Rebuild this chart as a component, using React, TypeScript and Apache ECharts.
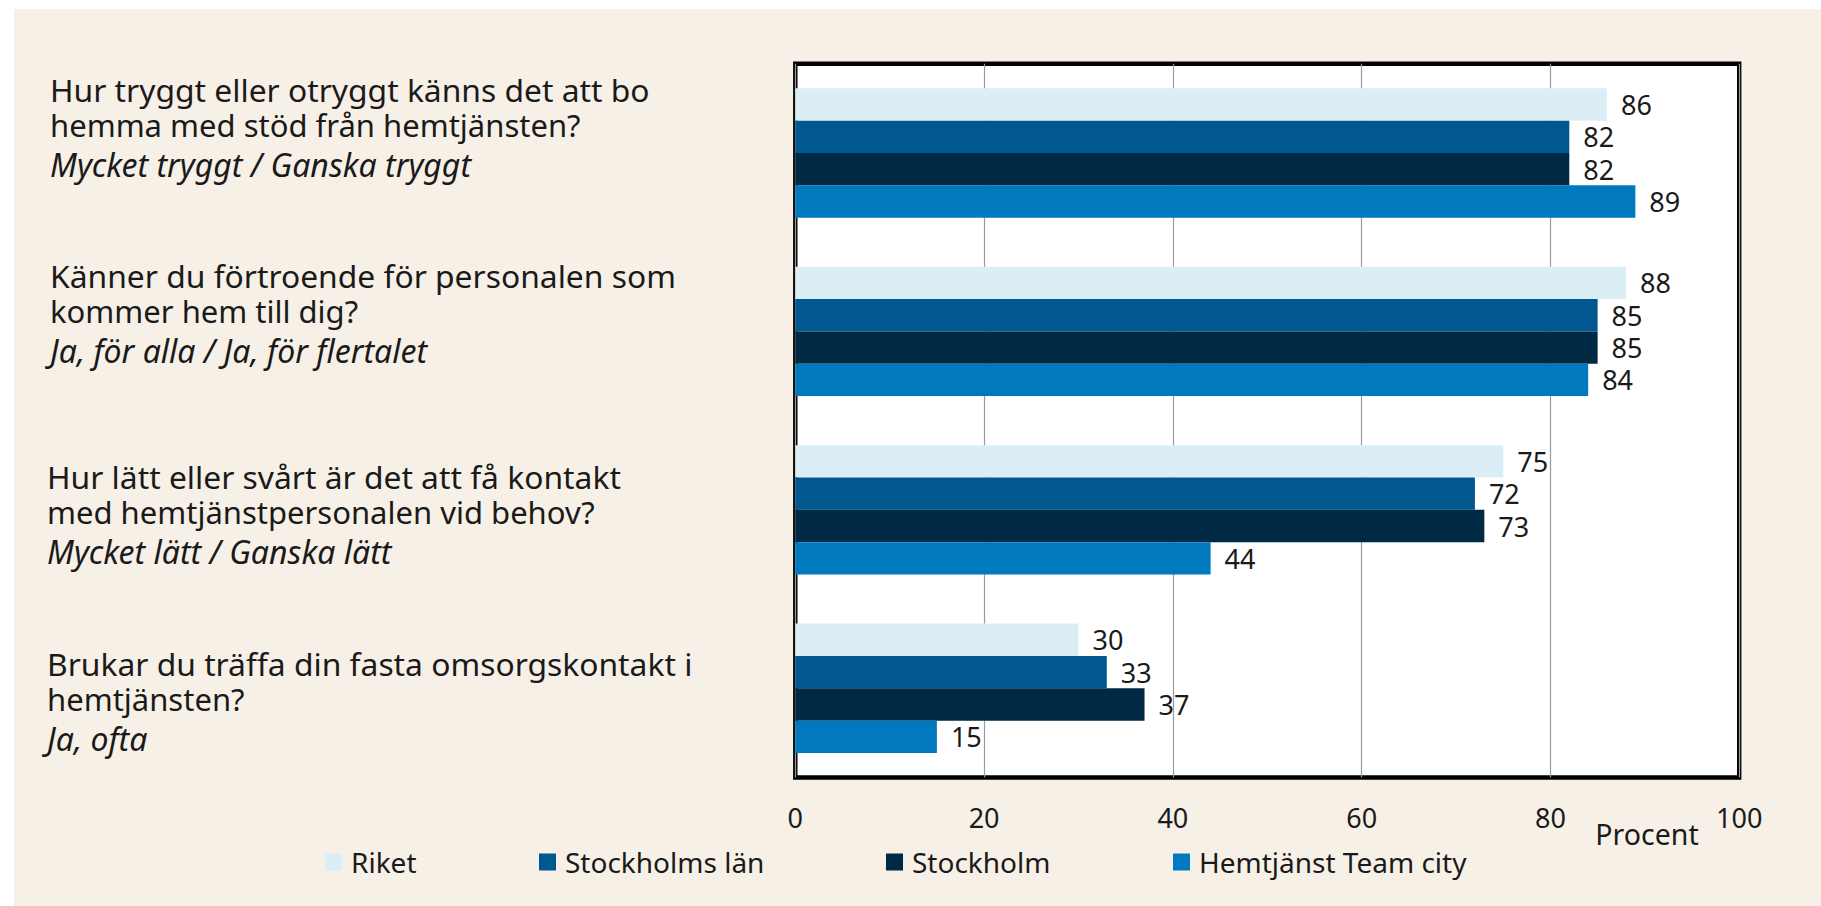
import React, { useEffect, useRef } from "react";
import * as echarts from "echarts";

const categories = ["Q1", "Q2", "Q3", "Q4"];
const questionLines = [
  ["Hur tryggt eller otryggt känns det att bo", "hemma med stöd från hemtjänsten?"],
  ["Känner du förtroende för personalen som", "kommer hem till dig?"],
  ["Hur lätt eller svårt är det att få kontakt", "med hemtjänstpersonalen vid behov?"],
  ["Brukar du träffa din fasta omsorgskontakt i", "hemtjänsten?"],
];
const answerLines = [
  "Mycket tryggt / Ganska tryggt",
  "Ja, för alla / Ja, för flertalet",
  "Mycket lätt / Ganska lätt",
  "Ja, ofta",
];
const seriesNames = ["Riket", "Stockholms län", "Stockholm", "Hemtjänst Team city"];
const riket = [86, 88, 75, 30];
const stockholmsLan = [82, 85, 72, 33];
const stockholm = [82, 85, 73, 37];
const hemtjanst = [89, 84, 44, 15];
const xTicks = [0, 20, 40, 60, 80, 100];
const axisName = "Procent";

const colors = ["#DBEEF5", "#01578F", "#002A43", "#0079BF"];
const FONT = "'Noto Sans', 'Open Sans', sans-serif";
const TEXT = "#1a1a1a";

export default function App() {
  const ref = useRef<HTMLDivElement>(null);
  useEffect(() => {
    if (!ref.current) return;
    const chart = echarts.init(ref.current, undefined, { renderer: "svg" });
    const values = [riket, stockholmsLan, stockholm, hemtjanst];
    const qTop = [80.4, 266.3, 467.2, 654.2];
    const qLeft = [36, 36, 33, 33];
    const graphic: any[] = [];
    questionLines.forEach((lines, i) => {
      lines.forEach((ln, j) => {
        graphic.push({
          type: "text",
          x: qLeft[i],
          y: qTop[i] + j * 36,
          style: {
            text: ln,
            fontSize: j === 0 ? 31.8 : 31,
            lineHeight: 33,
            fontFamily: FONT,
            fill: TEXT,
            verticalAlign: "middle",
          },
        });
      });
      graphic.push({
        type: "text",
        x: qLeft[i],
        y: qTop[i] + 2 * 36 + 3,
        style: {
          text: answerLines[i],
          fontSize: 32,
          lineHeight: 33,
          fontStyle: "italic",
          fontFamily: FONT,
          fill: TEXT,
          verticalAlign: "middle",
        },
      });
    });
    graphic.push({
      type: "text",
      x: 1633,
      y: 825,
      style: {
        text: axisName,
        fontSize: 28.5,
        lineHeight: 30,
        fontFamily: FONT,
        fill: TEXT,
        align: "center",
        verticalAlign: "middle",
      },
    });
    const legendLefts = [311, 525, 872, 1159];
    const option: any = {
      animation: false,
      textStyle: { fontFamily: FONT },
      grid: {
        left: 781.3,
        top: 54.8,
        width: 943.9,
        height: 713.7,
        show: true,
        backgroundColor: "#ffffff",
        borderColor: "#000000",
        borderWidth: 4.4,
        containLabel: false,
      },
      legend: seriesNames.map((n, i) => ({
        data: [n],
        left: legendLefts[i],
        top: 839,
        itemWidth: 17,
        itemHeight: 17,
        icon: "rect",
        padding: 0,
        textStyle: { fontSize: 28, fontFamily: FONT, color: TEXT, padding: [0, 0, 0, 4] },
      })),
      xAxis: {
        type: "value",
        min: xTicks[0],
        max: xTicks[xTicks.length - 1],
        interval: xTicks[1] - xTicks[0],
        axisLine: { show: false },
        axisTick: { show: false },
        splitLine: { show: true, lineStyle: { color: "#9c9c9c", width: 1.2 } },
        axisLabel: { fontSize: 27, fontFamily: FONT, color: TEXT, margin: 26 },
      },
      yAxis: {
        type: "category",
        data: categories,
        inverse: true,
        axisLine: { show: false },
        axisTick: { show: false },
        axisLabel: { show: false },
        splitLine: { show: false },
      },
      series: seriesNames.map((n, i) => ({
        name: n,
        type: "bar",
        data: values[i],
        barGap: "0%",
        barCategoryGap: "27.5%",
        itemStyle: { color: colors[i] },
        label: {
          show: true,
          position: "right",
          distance: 14,
          fontSize: 27,
          lineHeight: 28,
          fontFamily: FONT,
          color: TEXT,
        },
      })),
      graphic,
    };
    chart.setOption(option);
    return () => chart.dispose();
  }, []);
  return (
    <div
      style={{
        position: "fixed",
        left: 14,
        top: 9,
        width: 1807,
        height: 897,
        background: "#F7F0E7",
      }}
    >
      <div ref={ref} style={{ width: 1807, height: 897 }} />
    </div>
  );
}
